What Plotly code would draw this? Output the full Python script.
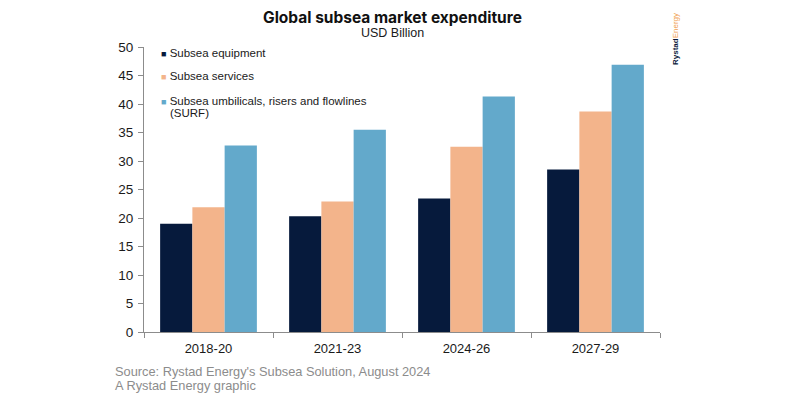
import plotly.graph_objects as go

categories = ["2018-20", "2021-23", "2024-26", "2027-29"]
equipment = [19.0, 20.3, 23.4, 28.5]
services = [21.9, 22.9, 32.5, 38.7]
surf = [32.7, 35.5, 41.3, 46.9]
series_names = ["Subsea equipment", "Subsea services",
                "Subsea umbilicals, risers and flowlines"]
y_ticks = [0, 5, 10, 15, 20, 25, 30, 35, 40, 45, 50]

colors = ["#061a3c", "#f3b48b", "#63a9cb"]
font_body = "Liberation Sans, Arial, sans-serif"

# page has an 8px body margin; figure sized so that it fills the 787x399 window
W, H = 779, 391
OFF = 8
l, r, t, b = 136, 127, 39, 67
pw, ph = W - l - r, H - t - b


def px(x, y):
    """page pixel -> paper coords"""
    return (x - OFF - l) / pw, 1 - (y - OFF - t) / ph


fig = go.Figure()
for i, (name, vals) in enumerate(zip(series_names, [equipment, services, surf])):
    fig.add_trace(go.Bar(x=categories, y=vals, name=name, marker_color=colors[i],
                         marker_line_width=0, showlegend=False))

ann = []


def add(text, x, y, xanchor="center", yanchor="middle", **kw):
    xx, yy = px(x, y)
    ann.append(dict(text=text, x=xx, y=yy, xref="paper", yref="paper", showarrow=False,
                    xanchor=xanchor, yanchor=yanchor, **kw))


add("<b>Global subsea market expenditure</b>", 392, 17,
    font=dict(family="Inter, sans-serif", size=15.5, color="#111111"))
add("USD Billion", 392, 33, font=dict(family=font_body, size=12.5, color="#1a1a1a"))
add("Source: Rystad Energy's Subsea Solution, August 2024", 113, 371, xanchor="left",
    font=dict(family=font_body, size=12.8, color="#8c8c8c"))
add("A Rystad Energy graphic", 113, 385, xanchor="left",
    font=dict(family=font_body, size=12.8, color="#8c8c8c"))
add("<b>Rystad</b><span style='color:#f0a050'>Energy</span>", 676, 39, textangle=-90,
    font=dict(family=font_body, size=8, color="#0a1a3a"))

# legend (coloured square glyph + series name)
legend_y = [53, 76, 101]
for i, name in enumerate(series_names):
    add(f"<span style='color:{colors[i]};font-size:9px'>■</span> {name}", 159, legend_y[i],
        xanchor="left", font=dict(family=font_body, size=11.5, color="#1a1a1a"))
add("(SURF)", 168, 113, xanchor="left", font=dict(family=font_body, size=11.5, color="#1a1a1a"))

fig.update_layout(
    width=W, height=H,
    paper_bgcolor="white", plot_bgcolor="white",
    margin=dict(l=l, r=r, t=t, b=b),
    barmode="group", bargap=0.25, bargroupgap=0,
    font=dict(family=font_body, size=13, color="#1a1a1a"),
    showlegend=False,
    xaxis=dict(type="category", showline=True, linecolor="#8c8c8c", linewidth=1,
               ticks="outside", tickson="boundaries", ticklen=5, tickcolor="#8c8c8c",
               ticklabelstandoff=4,
               showgrid=False, tickfont=dict(size=13, color="#1a1a1a")),
    yaxis=dict(range=[0, 50], tickvals=y_ticks, showline=True, linecolor="#8c8c8c",
               linewidth=1, ticks="outside", ticklen=5, tickcolor="#8c8c8c",
               ticklabelstandoff=2,
               showgrid=False, zeroline=False, tickfont=dict(size=13.5, color="#1a1a1a")),
    annotations=ann,
)

fig.write_html("out.html")
